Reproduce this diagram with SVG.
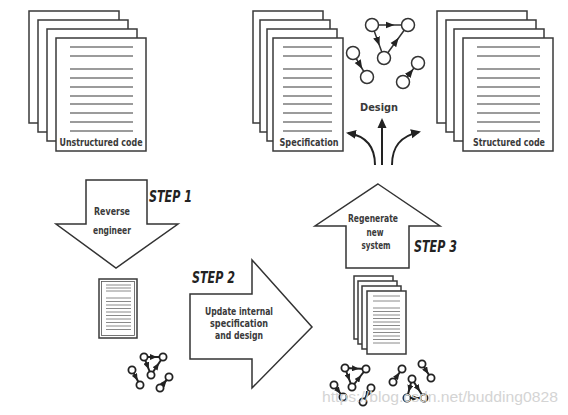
<svg xmlns="http://www.w3.org/2000/svg" width="568" height="415" viewBox="0 0 568 415">
<style>
.pg{fill:#fff;stroke:#3a3a3a;stroke-width:1.5}
.ln{stroke:#7a7a7a;stroke-width:1.3}
.sl{stroke:#8a8a8a;stroke-width:1}
.ar{fill:#fff;stroke:#333;stroke-width:1.5;stroke-linejoin:miter}
.lb{font-family:"DejaVu Sans Condensed","DejaVu Sans",sans-serif;font-weight:bold;font-size:11px;fill:#3a3a3a;text-anchor:middle}
.st{font-family:"DejaVu Sans Condensed","DejaVu Sans",sans-serif;font-weight:bold;font-style:italic;font-size:16px;fill:#222}
.nd{fill:#fff;stroke:#333;stroke-width:1.5}
.ns{fill:#fff;stroke:#222;stroke-width:1.8}
.ed{stroke:#333;stroke-width:1.5;fill:none;marker-mid:url(#mh)}
.es{stroke:#222;stroke-width:2;fill:none;marker-mid:url(#ms)}
.cv{stroke:#222;stroke-width:2;fill:none;marker-end:url(#ah)}
</style>
<defs>
<marker id="mh" markerUnits="userSpaceOnUse" markerWidth="9" markerHeight="8" refX="4.5" refY="4" orient="auto"><path d="M0,0.5 L9,4 L0,7.5 z" fill="#222"/></marker>
<marker id="ms" markerUnits="userSpaceOnUse" markerWidth="7" markerHeight="6" refX="3.5" refY="3" orient="auto"><path d="M0,0 L7,3 L0,6 z" fill="#222"/></marker>
<marker id="ah" markerUnits="userSpaceOnUse" markerWidth="10" markerHeight="10" refX="8" refY="5" orient="auto"><path d="M0,0.5 L10,5 L0,9.5 z" fill="#222"/></marker>
</defs>

<g id="unstructured-code">
<rect class="pg" x="29" y="11" width="90" height="112"/>
<rect class="pg" x="38" y="20" width="90" height="112"/>
<rect class="pg" x="47" y="29" width="90" height="112"/>
<rect class="pg" x="56" y="38" width="90" height="113"/>
<g class="ln">
<line x1="70" y1="47" x2="133" y2="47"/><line x1="70" y1="56" x2="133" y2="56"/>
<line x1="70" y1="69" x2="133" y2="69"/><line x1="70" y1="78" x2="133" y2="78"/>
<line x1="70" y1="87" x2="133" y2="87"/><line x1="70" y1="96" x2="133" y2="96"/>
<line x1="70" y1="104" x2="133" y2="104"/><line x1="70" y1="113" x2="133" y2="113"/>
<line x1="70" y1="122" x2="133" y2="122"/><line x1="70" y1="131" x2="133" y2="131"/>
</g>
<text class="lb" x="101" y="146" textLength="83" lengthAdjust="spacingAndGlyphs">Unstructured code</text>
</g>

<g id="specification">
<rect class="pg" x="253" y="11" width="70" height="112"/>
<rect class="pg" x="260" y="20" width="70" height="112"/>
<rect class="pg" x="267" y="29" width="70" height="112"/>
<rect class="pg" x="273" y="38" width="70" height="113"/>
<g class="ln">
<line x1="283" y1="47" x2="332" y2="47"/><line x1="283" y1="56" x2="332" y2="56"/>
<line x1="283" y1="69" x2="332" y2="69"/><line x1="283" y1="78" x2="332" y2="78"/>
<line x1="283" y1="87" x2="332" y2="87"/><line x1="283" y1="96" x2="332" y2="96"/>
<line x1="283" y1="104" x2="332" y2="104"/><line x1="283" y1="113" x2="332" y2="113"/>
<line x1="283" y1="122" x2="332" y2="122"/><line x1="283" y1="131" x2="332" y2="131"/>
</g>
<text class="lb" x="309" y="146" textLength="59" lengthAdjust="spacingAndGlyphs">Specification</text>
</g>

<g id="structured-code">
<rect class="pg" x="437" y="11" width="90" height="112"/>
<rect class="pg" x="446" y="20" width="90" height="112"/>
<rect class="pg" x="454" y="29" width="90" height="112"/>
<rect class="pg" x="463" y="38" width="90" height="113"/>
<g class="ln">
<line x1="477" y1="47" x2="540" y2="47"/><line x1="477" y1="56" x2="540" y2="56"/>
<line x1="477" y1="69" x2="540" y2="69"/><line x1="477" y1="78" x2="540" y2="78"/>
<line x1="477" y1="87" x2="540" y2="87"/><line x1="477" y1="96" x2="540" y2="96"/>
<line x1="477" y1="104" x2="540" y2="104"/><line x1="477" y1="113" x2="540" y2="113"/>
<line x1="477" y1="122" x2="540" y2="122"/><line x1="477" y1="131" x2="540" y2="131"/>
</g>
<text class="lb" x="509" y="146" textLength="72" lengthAdjust="spacingAndGlyphs">Structured code</text>
</g>

<g id="design-graph">
<path class="ed" d="M372,25 L390,25 L408,25"/>
<path class="ed" d="M372,25 L378,41.5 L384,58"/>
<path class="ed" d="M384,58 L396,41.5 L408,25"/>
<path class="ed" d="M353,53 L360,65 L367,77"/>
<path class="ed" d="M403,82 L410.5,72.5 L418,63"/>
<circle class="nd" cx="372" cy="25" r="6.5"/>
<circle class="nd" cx="408" cy="25" r="6.5"/>
<circle class="nd" cx="384" cy="58" r="6.5"/>
<circle class="nd" cx="353" cy="53" r="6.5"/>
<circle class="nd" cx="367" cy="77" r="6.5"/>
<circle class="nd" cx="418" cy="63" r="6.5"/>
<circle class="nd" cx="403" cy="82" r="6.5"/>
<text class="lb" x="379" y="111" textLength="38" lengthAdjust="spacingAndGlyphs">Design</text>
</g>

<g id="step1">
<polygon class="ar" points="86,180 147,180 147,224 178,224 116,268 56,224 86,224"/>
<text class="lb" x="112" y="215" textLength="36" lengthAdjust="spacingAndGlyphs">Reverse</text>
<text class="lb" x="112" y="234" textLength="38" lengthAdjust="spacingAndGlyphs">engineer</text>
<text class="st" x="149" y="202" textLength="43" lengthAdjust="spacingAndGlyphs">STEP 1</text>
</g>

<g id="step2">
<polygon class="ar" points="190,294 252,294 252,260 312,327 252,388 252,359 190,359"/>
<text class="st" x="192" y="283" textLength="43" lengthAdjust="spacingAndGlyphs">STEP 2</text>
<text class="lb" x="239" y="315" textLength="68" lengthAdjust="spacingAndGlyphs">Update internal</text>
<text class="lb" x="239" y="327" textLength="58" lengthAdjust="spacingAndGlyphs">specification</text>
<text class="lb" x="239" y="339" textLength="48" lengthAdjust="spacingAndGlyphs">and design</text>
</g>

<g id="step3">
<polygon class="ar" points="378,184 440,226 409,226 409,268 346,268 346,226 315,226"/>
<text class="lb" x="373" y="222" textLength="50" lengthAdjust="spacingAndGlyphs">Regenerate</text>
<text class="lb" x="375" y="236" textLength="17" lengthAdjust="spacingAndGlyphs">new</text>
<text class="lb" x="376" y="249" textLength="29" lengthAdjust="spacingAndGlyphs">system</text>
<text class="st" x="414" y="252" textLength="43" lengthAdjust="spacingAndGlyphs">STEP 3</text>
</g>

<g id="internal-spec-doc">
<rect class="pg" x="99" y="279" width="38" height="59"/>
<rect fill="none" stroke="#555" stroke-width="0.8" x="101.5" y="281.5" width="33" height="54"/>
<g class="sl">
<line x1="106" y1="285" x2="131" y2="285"/><line x1="106" y1="288" x2="131" y2="288"/><line x1="106" y1="291" x2="131" y2="291"/>
<line x1="106" y1="298" x2="131" y2="298"/><line x1="106" y1="301.5" x2="131" y2="301.5"/>
<line x1="106" y1="305" x2="131" y2="305"/><line x1="106" y1="308.5" x2="131" y2="308.5"/>
<line x1="106" y1="312" x2="131" y2="312"/><line x1="106" y1="315.5" x2="131" y2="315.5"/>
<line x1="106" y1="319" x2="131" y2="319"/><line x1="106" y1="322.5" x2="131" y2="322.5"/>
<line x1="106" y1="326" x2="131" y2="326"/><line x1="106" y1="329.5" x2="131" y2="329.5"/>
</g>
</g>

<g id="internal-design-graph">
<path class="es" d="M144,357 L153.5,357 L163,357"/>
<path class="es" d="M144,357 L147.5,366 L151,375"/>
<path class="es" d="M151,375 L157,366 L163,357"/>
<path class="es" d="M132,370 L136,377.5 L140,385"/>
<path class="es" d="M160,388 L164.5,382.5 L169,377"/>
<circle class="ns" cx="144" cy="357" r="3.6"/>
<circle class="ns" cx="163" cy="357" r="3.6"/>
<circle class="ns" cx="151" cy="375" r="3.6"/>
<circle class="ns" cx="132" cy="370" r="3.6"/>
<circle class="ns" cx="140" cy="385" r="3.6"/>
<circle class="ns" cx="169" cy="377" r="3.6"/>
<circle class="ns" cx="160" cy="388" r="3.6"/>
</g>

<g id="new-system-docs">
<rect class="pg" x="354" y="276" width="39" height="63"/>
<rect class="pg" x="358" y="281" width="39" height="63"/>
<rect class="pg" x="362" y="286" width="39" height="63"/>
<rect class="pg" x="367" y="291" width="39" height="63"/>
<g class="sl">
<line x1="373" y1="296" x2="400" y2="296"/><line x1="373" y1="301" x2="400" y2="301"/>
<line x1="373" y1="308" x2="400" y2="308"/><line x1="373" y1="311.5" x2="400" y2="311.5"/>
<line x1="373" y1="315" x2="400" y2="315"/><line x1="373" y1="318.5" x2="400" y2="318.5"/>
<line x1="373" y1="322" x2="400" y2="322"/><line x1="373" y1="325.5" x2="400" y2="325.5"/>
<line x1="373" y1="329" x2="400" y2="329"/><line x1="373" y1="332.5" x2="400" y2="332.5"/>
<line x1="373" y1="336" x2="400" y2="336"/><line x1="373" y1="339.5" x2="400" y2="339.5"/>
<line x1="373" y1="343" x2="400" y2="343"/>
</g>
</g>

<g id="new-system-graphs">
<path class="es" d="M345,368 L355.5,368.5 L366,369"/>
<path class="es" d="M345,368 L348.5,377.5 L352,387"/>
<path class="es" d="M352,387 L359,378 L366,369"/>
<path class="es" d="M334,385 L338.5,391 L343,397"/>
<path class="es" d="M371,388 L367,395 L363,402"/>
<path class="es" d="M393,382 L397.5,375.5 L402,369"/>
<path class="es" d="M422,364 L426.5,371 L431,378"/>
<path class="es" d="M412,379 L409.5,388.5 L407,398"/>
<path class="es" d="M412,379 L418,388.5 L424,398"/>
<path class="es" d="M407,398 L415.5,398 L424,398"/>
<circle class="ns" cx="345" cy="368" r="3.6"/>
<circle class="ns" cx="366" cy="369" r="3.6"/>
<circle class="ns" cx="352" cy="387" r="3.6"/>
<circle class="ns" cx="334" cy="385" r="3.6"/>
<circle class="ns" cx="343" cy="397" r="3.6"/>
<circle class="ns" cx="371" cy="388" r="3.6"/>
<circle class="ns" cx="363" cy="402" r="3.6"/>
<circle class="ns" cx="402" cy="369" r="3.6"/>
<circle class="ns" cx="393" cy="382" r="3.6"/>
<circle class="ns" cx="422" cy="364" r="3.6"/>
<circle class="ns" cx="431" cy="378" r="3.6"/>
<circle class="ns" cx="412" cy="379" r="3.6"/>
<circle class="ns" cx="407" cy="398" r="3.6"/>
<circle class="ns" cx="424" cy="398" r="3.6"/>
</g>

<g id="connectors">
<path class="cv" d="M382,165 L382,120"/>
<path class="cv" d="M375,165 C375,146 366,136 348,133"/>
<path class="cv" d="M392,165 C392,146 401,136 419,132"/>
</g>

<text x="322" y="402" font-family="Liberation Sans, Arial, sans-serif" font-size="15" fill="#d4d4d4" textLength="236" lengthAdjust="spacingAndGlyphs">https://blog.csdn.net/budding0828</text>
</svg>
